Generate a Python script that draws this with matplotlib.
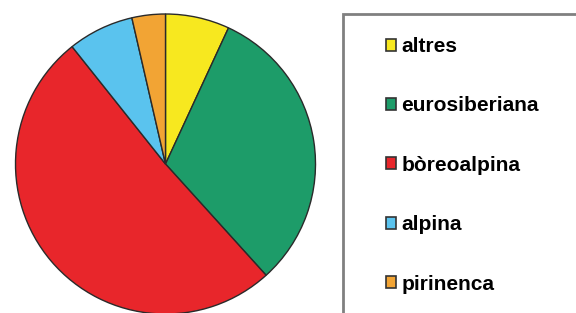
import matplotlib.pyplot as plt
from matplotlib.patches import Rectangle

labels = ['altres', 'eurosiberiana', 'bòreoalpina', 'alpina', 'pirinenca']
values = [6.9, 31.4, 51.0, 7.1, 3.6]
colors = ['#f7e81f', '#1d9c69', '#e8262b', '#5ac3ee', '#f2a434']

W, H = 576, 313
fig = plt.figure(figsize=(W / 100, H / 100), dpi=100)

# pie: centre ~ (165.5, 164) px, radius ~150 px
cx, cy, r = 165.5, 164, 150
ax = fig.add_axes([(cx - r) / W, (H - cy - r) / H, 2 * r / W, 2 * r / H])
wedges, _ = ax.pie(values, colors=colors, startangle=90, counterclock=False,
                   wedgeprops=dict(edgecolor='#2a2a2a', linewidth=1.0))
ax.set_aspect('equal')
ax.set_xlim(-1.0, 1.0)
ax.set_ylim(-1.0, 1.0)

# legend box (runs off the bottom/right of the image)
fig.patches.append(Rectangle((343 / W, -0.2), (580 - 343) / W, 0.2 + (H - 14) / H,
                             transform=fig.transFigure, fill=False,
                             edgecolor='#808080', linewidth=2.0))

leg = fig.legend(wedges, labels, loc='upper left',
                 bbox_to_anchor=(386 / W, (H - 37) / H),
                 frameon=False, borderpad=0, borderaxespad=0,
                 handlelength=0.5, handleheight=0.5, handletextpad=0.25,
                 labelspacing=1.94,
                 prop=dict(family='Liberation Sans', weight='bold', size=15))
for h in leg.legend_handles:
    h.set_edgecolor('#333333')
    h.set_linewidth(1.2)

fig.savefig('out.png', dpi=100)
